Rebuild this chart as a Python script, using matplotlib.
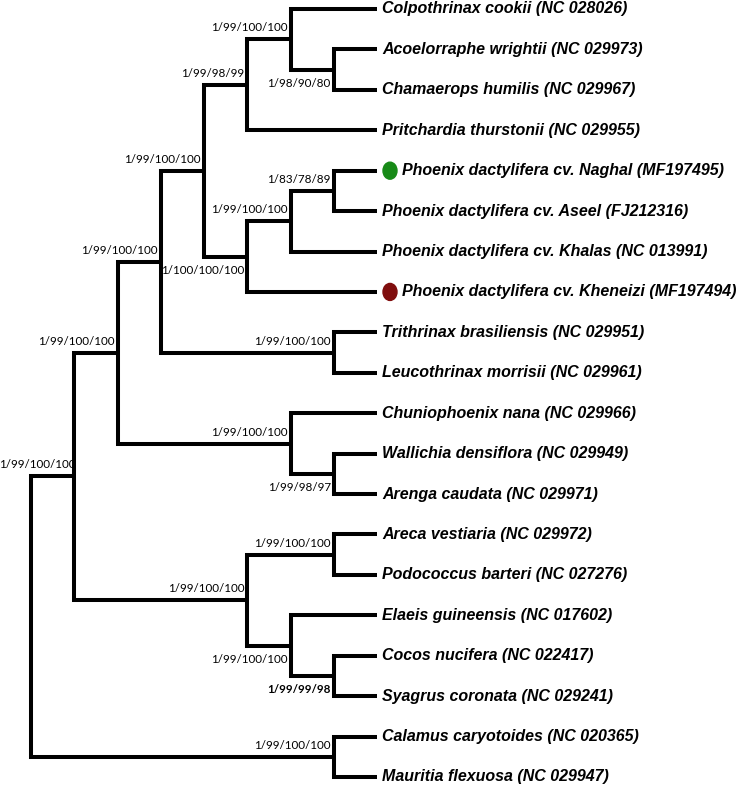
import matplotlib.pyplot as plt
from matplotlib.patches import Ellipse

# leaf labels, top to bottom
taxa = ["Colpothrinax cookii", "Acoelorraphe wrightii", "Chamaerops humilis",
        "Pritchardia thurstonii", "Phoenix dactylifera cv. Naghal",
        "Phoenix dactylifera cv. Aseel", "Phoenix dactylifera cv. Khalas",
        "Phoenix dactylifera cv. Kheneizi", "Trithrinax brasiliensis",
        "Leucothrinax morrisii", "Chuniophoenix nana", "Wallichia densiflora",
        "Arenga caudata", "Areca vestiaria", "Podococcus barteri",
        "Elaeis guineensis", "Cocos nucifera", "Syagrus coronata",
        "Calamus caryotoides", "Mauritia flexuosa"]
accessions = ["NC 028026", "NC 029973", "NC 029967", "NC 029955", "MF197495",
              "FJ212316", "NC 013991", "MF197494", "NC 029951", "NC 029961",
              "NC 029966", "NC 029949", "NC 029971", "NC 029972", "NC 027276",
              "NC 017602", "NC 022417", "NC 029241", "NC 020365", "NC 029947"]

# topology: (support, child, child), ints are leaf indices
tree = (None,
        ("1/99/100/100",
         ("1/99/100/100",
          ("1/99/100/100",
           ("1/99/100/100",
            ("1/99/98/99", ("1/99/100/100", 0, ("1/98/90/80", 1, 2)), 3),
            ("1/100/100/100", ("1/99/100/100", ("1/83/78/89", 4, 5), 6), 7)),
           ("1/99/100/100", 8, 9)),
          ("1/99/100/100", 10, ("1/99/98/97", 11, 12))),
         ("1/99/100/100", ("1/99/100/100", 13, 14),
          ("1/99/100/100", 15, ("1/99/99/98", 16, 17)))),
        ("1/99/100/100", 18, 19))

# highlighted new cultivars
marked = {4: "#178a17", 7: "#800d0d"}
below = {(1, 2), (4, 5, 6, 7), (11, 12), (15, 16, 17), (16, 17)}
bold = {(16, 17)}

LEAF_DEPTH = 8
X0, DX = 31, 43.25
Y0, DY = 9, 40.42

fig = plt.figure(figsize=(7.4, 7.85), dpi=100)
ax = fig.add_axes([0, 0, 1, 1])
ax.set_xlim(0, 740)
ax.set_ylim(785, 0)
ax.axis("off")


def px(d):
    return X0 + DX * d


def py(i):
    return Y0 + DY * i


def draw(node):
    if isinstance(node, int):
        return LEAF_DEPTH, node, (node,)
    label, a, b = node
    xa, ya, la = draw(a)
    xb, yb, lb = draw(b)
    d = min(xa, xb) - 1
    y = (ya + yb) / 2
    ax.plot([px(xa), px(d), px(d), px(xb)], [py(ya), py(ya), py(yb), py(yb)],
            color="black", lw=2.9, solid_joinstyle="miter", solid_capstyle="butt")
    leaves = la + lb
    if label:
        w = "bold" if leaves in bold else "normal"
        # keep the label inside the left edge
        lx = max(px(d) - 3, 76)
        if leaves in below:
            ax.text(lx, py(y) + 17, label, ha="right", va="baseline",
                    fontsize=8.4, family="Lato", fontweight=w)
        else:
            ax.text(lx, py(y) - 8, label, ha="right", va="baseline",
                    fontsize=8.4, family="Lato", fontweight=w)
    return d, y, leaves


draw(tree)

for i, (name, acc) in enumerate(zip(taxa, accessions)):
    tx = px(LEAF_DEPTH) + 5
    if i in marked:
        ax.add_patch(Ellipse((px(LEAF_DEPTH) + 13, py(i)), 14, 17,
                             color=marked[i]))
        tx = px(LEAF_DEPTH) + 25
    ax.text(tx, py(i), f"{name} ({acc})", ha="left", va="center",
            fontsize=11.5, family="Liberation Sans", fontweight="bold",
            fontstyle="italic")

fig.savefig("out.png", dpi=100)
